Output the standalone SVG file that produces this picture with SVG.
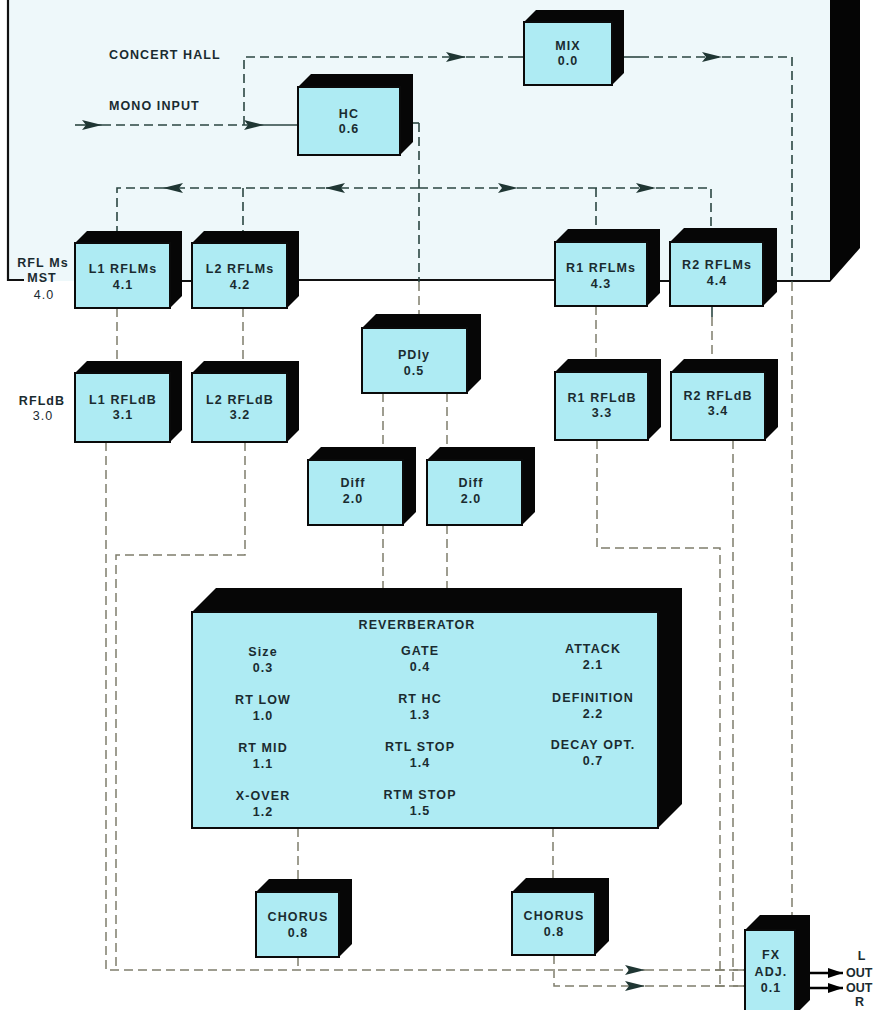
<svg xmlns="http://www.w3.org/2000/svg" width="874" height="1010" viewBox="0 0 874 1010">
<defs>
<style>
text{font-family:"Liberation Sans",Arial,Helvetica,sans-serif;font-weight:bold;font-size:12.5px;letter-spacing:1.1px;fill:#1a2b30}
.c{text-anchor:middle}
.rg{font-weight:normal}
.tight{letter-spacing:0}
.ext{fill:#060606}
.face{fill:#aeebf3;stroke:#0a0a0a;stroke-width:2}
.dk{fill:none;stroke:#2b4642;stroke-width:1.6;stroke-dasharray:9 5}
.gy{fill:none;stroke:#7f7e6c;stroke-width:1.5;stroke-dasharray:9 5}
.sd{fill:none;stroke:#2b4642;stroke-width:1.6}
.out{fill:none;stroke:#000;stroke-width:2.4}
</style>
<marker id="ah" viewBox="0 0 20 10" refX="20" refY="5" markerWidth="20" markerHeight="10" markerUnits="userSpaceOnUse" orient="auto">
<path d="M0,0 L20,5 L0,10 L4,5 z" fill="#1f3633"/>
</marker>
<marker id="ahb" viewBox="0 0 15 10" refX="15" refY="5" markerWidth="15" markerHeight="10" markerUnits="userSpaceOnUse" orient="auto">
<path d="M0,0 L15,5 L0,10 z" fill="#000"/>
</marker>
</defs>
<rect width="874" height="1010" fill="#ffffff"/>
<g id="panel">
<rect x="8" y="0" width="822" height="281" fill="#eef8fa"/>
<polygon points="830,0 860,0 860,248 830,282" fill="#050505"/>
<path d="M8,0 V280 H24" fill="none" stroke="#111" stroke-width="2.2"/>
<path d="M170,281 H192 M299,280 H555 M660,281 H670 M777,281 H830" fill="none" stroke="#111" stroke-width="2.2"/>
<text x="109" y="59">CONCERT HALL</text>
<text x="109" y="110">MONO INPUT</text>
<text class="c" x="43" y="267">RFL Ms</text>
<text class="c" x="42" y="282">MST</text>
<text class="c rg" x="44" y="299">4.0</text>
<text class="c" x="42" y="405">RFLdB</text>
<text class="c rg" x="43" y="420">3.0</text>
</g>
<g id="connectors">
<path class="sd" d="M75,125 H102" marker-end="url(#ah)"/>
<path class="dk" d="M102,125 H264" marker-end="url(#ah)"/>
<path class="sd" d="M264,125 H298"/>
<path class="dk" d="M244,125 V57 H466" marker-end="url(#ah)"/>
<path class="dk" d="M466,57 H510"/>
<path class="sd" d="M510,57 H524"/>
<path class="sd" d="M624,57 H640"/>
<path class="dk" d="M640,57 H722" marker-end="url(#ah)"/>
<path class="dk" d="M722,57 H792 V282"/>
<path class="gy" d="M792,282 V915"/>
<path class="sd" d="M413,123 H419"/>
<path class="dk" d="M419,123 V282"/>
<path class="gy" d="M419,282 V314"/>
<path class="dk" d="M419,188 H325" marker-end="url(#ah)"/>
<path class="dk" d="M325,188 H163" marker-end="url(#ah)"/>
<path class="dk" d="M163,188 H117 V231"/>
<path class="dk" d="M243,188 V231"/>
<path class="dk" d="M419,188 H518" marker-end="url(#ah)"/>
<path class="dk" d="M518,188 H656" marker-end="url(#ah)"/>
<path class="dk" d="M656,188 H711 V228"/>
<path class="dk" d="M596,188 V229"/>
<path class="gy" d="M117,308 V361"/>
<path class="gy" d="M243,308 V361"/>
<path class="gy" d="M596,306 V359"/>
<path class="sd" d="M712,306 V317"/>
<path class="gy" d="M712,317 V359"/>
<path class="gy" d="M383,393 V447"/>
<path class="gy" d="M447,393 V447"/>
<path class="gy" d="M383,525 V588"/>
<path class="gy" d="M447,525 V588"/>
<path class="gy" d="M298,828 V879"/>
<path class="gy" d="M553,828 V878"/>
<path class="gy" d="M106,442 V970 H645" marker-end="url(#ah)"/>
<path class="gy" d="M645,970 H745"/>
<path class="gy" d="M245,442 V555 H116 V970"/>
<path class="gy" d="M298,957 V970"/>
<path class="gy" d="M554,955 V986 H645" marker-end="url(#ah)"/>
<path class="gy" d="M645,986 H745"/>
<path class="gy" d="M597,440 V548 H720 V986"/>
<path class="gy" d="M733,440 V986"/>
<path d="M715,970 H725 M715,986 H725 M733,970 H745 M733,986 H745" fill="none" stroke="#7f7e6c" stroke-width="1.5"/>
<path class="out" d="M810,973 H843" marker-end="url(#ahb)"/>
<path class="out" d="M810,988 H843" marker-end="url(#ahb)"/>
</g>
<g id="node-mix">
<polygon class="ext" points="524,22 536,10 624,10 624,73 612,85 524,85"/>
<rect class="face" x="524" y="22" width="88" height="63"/>
<text class="c" x="568" y="50">MIX</text>
<text class="c" x="568" y="65">0.0</text>
</g>
<g id="node-hc">
<polygon class="ext" points="298,87 311,74 413,74 413,142 400,155 298,155"/>
<rect class="face" x="298" y="87" width="102" height="68"/>
<text class="c" x="349" y="118">HC</text>
<text class="c" x="349" y="133">0.6</text>
</g>
<g id="node-l1rflms">
<polygon class="ext" points="75,243 87,231 182,231 182,296 170,308 75,308"/>
<rect class="face" x="75" y="243" width="95" height="65"/>
<text class="c" x="123" y="273">L1 RFLMs</text>
<text class="c" x="123" y="289">4.1</text>
</g>
<g id="node-l2rflms">
<polygon class="ext" points="192,243 204,231 299,231 299,296 287,308 192,308"/>
<rect class="face" x="192" y="243" width="95" height="65"/>
<text class="c" x="240" y="273">L2 RFLMs</text>
<text class="c" x="240" y="289">4.2</text>
</g>
<g id="node-r1rflms">
<polygon class="ext" points="555,242 568,229 660,229 660,293 647,306 555,306"/>
<rect class="face" x="555" y="242" width="92" height="64"/>
<text class="c" x="601" y="272">R1 RFLMs</text>
<text class="c" x="601" y="288">4.3</text>
</g>
<g id="node-r2rflms">
<polygon class="ext" points="670,242 684,228 777,228 777,292 763,306 670,306"/>
<rect class="face" x="670" y="242" width="93" height="64"/>
<text class="c" x="717" y="269">R2 RFLMs</text>
<text class="c" x="717" y="285">4.4</text>
</g>
<g id="node-pdly">
<polygon class="ext" points="362,328 376,314 481,314 481,379 467,393 362,393"/>
<rect class="face" x="362" y="328" width="105" height="65"/>
<text class="c" x="414" y="359">PDly</text>
<text class="c" x="414" y="375">0.5</text>
</g>
<g id="node-l1rfldb">
<polygon class="ext" points="75,373 87,361 182,361 182,430 170,442 75,442"/>
<rect class="face" x="75" y="373" width="95" height="69"/>
<text class="c" x="123" y="404">L1 RFLdB</text>
<text class="c" x="123" y="419">3.1</text>
</g>
<g id="node-l2rfldb">
<polygon class="ext" points="192,373 204,361 299,361 299,430 287,442 192,442"/>
<rect class="face" x="192" y="373" width="95" height="69"/>
<text class="c" x="240" y="404">L2 RFLdB</text>
<text class="c" x="240" y="419">3.2</text>
</g>
<g id="node-r1rfldb">
<polygon class="ext" points="555,372 568,359 661,359 661,427 648,440 555,440"/>
<rect class="face" x="555" y="372" width="93" height="68"/>
<text class="c" x="602" y="402">R1 RFLdB</text>
<text class="c" x="602" y="417">3.3</text>
</g>
<g id="node-r2rfldb">
<polygon class="ext" points="671,372 684,359 778,359 778,427 765,440 671,440"/>
<rect class="face" x="671" y="372" width="94" height="68"/>
<text class="c" x="718" y="400">R2 RFLdB</text>
<text class="c" x="718" y="415">3.4</text>
</g>
<g id="node-diff1">
<polygon class="ext" points="308,460 321,447 416,447 416,512 403,525 308,525"/>
<rect class="face" x="308" y="460" width="95" height="65"/>
<text class="c" x="353" y="487">Diff</text>
<text class="c" x="353" y="503">2.0</text>
</g>
<g id="node-diff2">
<polygon class="ext" points="427,460 440,447 535,447 535,512 522,525 427,525"/>
<rect class="face" x="427" y="460" width="95" height="65"/>
<text class="c" x="471" y="487">Diff</text>
<text class="c" x="471" y="503">2.0</text>
</g>
<g id="node-reverberator">
<polygon class="ext" points="192,612 216,588 682,588 682,804 658,828 192,828"/>
<rect class="face" x="192" y="612" width="466" height="216"/>
<text class="c" x="417" y="629">REVERBERATOR</text>
<text class="c" x="263" y="656">Size</text>
<text class="c" x="263" y="672">0.3</text>
<text class="c" x="263" y="704">RT LOW</text>
<text class="c" x="263" y="720">1.0</text>
<text class="c" x="263" y="752">RT MID</text>
<text class="c" x="263" y="768">1.1</text>
<text class="c" x="263" y="800">X-OVER</text>
<text class="c" x="263" y="816">1.2</text>
<text class="c" x="420" y="655">GATE</text>
<text class="c" x="420" y="671">0.4</text>
<text class="c" x="420" y="703">RT HC</text>
<text class="c" x="420" y="719">1.3</text>
<text class="c" x="420" y="751">RTL STOP</text>
<text class="c" x="420" y="767">1.4</text>
<text class="c" x="420" y="799">RTM STOP</text>
<text class="c" x="420" y="815">1.5</text>
<text class="c" x="593" y="653">ATTACK</text>
<text class="c" x="593" y="669">2.1</text>
<text class="c" x="593" y="702">DEFINITION</text>
<text class="c" x="593" y="718">2.2</text>
<text class="c" x="593" y="749">DECAY OPT.</text>
<text class="c" x="593" y="765">0.7</text>
</g>
<g id="node-chorus1">
<polygon class="ext" points="256,892 269,879 352,879 352,944 339,957 256,957"/>
<rect class="face" x="256" y="892" width="83" height="65"/>
<text class="c" x="298" y="921">CHORUS</text>
<text class="c" x="298" y="937">0.8</text>
</g>
<g id="node-chorus2">
<polygon class="ext" points="512,892 526,878 609,878 609,941 595,955 512,955"/>
<rect class="face" x="512" y="892" width="83" height="63"/>
<text class="c" x="554" y="920">CHORUS</text>
<text class="c" x="554" y="936">0.8</text>
</g>
<g id="node-fxadj">
<polygon class="ext" points="745,930 760,915 810,915 810,1000 795,1015 745,1015"/>
<rect class="face" x="745" y="930" width="50" height="85"/>
<text class="c" x="771" y="959">FX</text>
<text class="c" x="771" y="976">ADJ.</text>
<text class="c" x="771" y="992">0.1</text>
</g>
<g id="outputs">
<text class="c" x="862" y="960">L</text>
<text class="tight" x="846" y="977" font-size="11.5">OUT</text>
<text class="tight" x="846" y="992" font-size="11.5">OUT</text>
<text class="c" x="860" y="1006">R</text>
</g>
</svg>
